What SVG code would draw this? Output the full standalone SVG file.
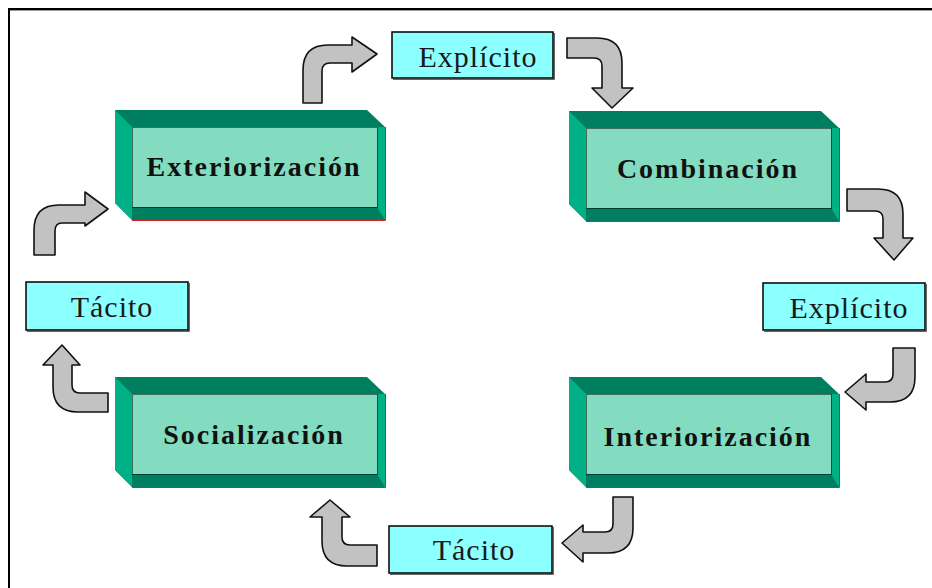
<svg xmlns="http://www.w3.org/2000/svg" width="932" height="588" viewBox="0 0 932 588">
<defs>
<style>
.face{fill:#84dcc0}
.dark{fill:#007f60}
.light{fill:#00b186}
.dots{fill:none;stroke:#000;stroke-width:1;stroke-dasharray:1 1}
.edge{fill:none;stroke:#e02020;stroke-width:1}
.title{font-family:"Liberation Serif","Times New Roman",serif;font-weight:bold;font-size:28px;letter-spacing:2px;fill:#111;text-anchor:middle}
.lbox{fill:#8cffff;stroke:#000;stroke-width:1.5}
.lshadow{fill:none;stroke:#333;stroke-width:1.5}
.ltext{font-family:"Liberation Serif","Times New Roman",serif;font-size:30px;letter-spacing:1px;fill:#1a1a1a;text-anchor:middle}
.arrow{fill:#c2c2c2;stroke:#111;stroke-width:1.6;stroke-linejoin:round}
</style>
<g id="box3d">
<polygon class="dark" points="0,0 252,0 270,17 270,110 17,110 0,93"/>
<polygon class="light" points="0,0 17,17 17,110 0,93"/>
<polygon class="light" points="262,17 270,17 270,110 262,97"/>
<rect class="face" x="17" y="17" width="245" height="80"/>
<rect class="dots" x="17.5" y="17.5" width="245" height="80"/>
<polyline class="edge" points="270.5,17 270.5,110.5 17,110.5"/>
</g>
</defs>
<rect x="0" y="0" width="932" height="588" fill="#fff"/>
<rect x="8" y="8" width="924" height="2" fill="#000"/>
<rect x="10" y="10" width="922" height="1" fill="#999"/>
<rect x="8" y="8" width="2" height="580" fill="#000"/>

<g id="connectors">
<path class="arrow" d="M303,103 L303,70 Q303,45 328,45 L352,45 L352,37 L377,54 L352,72 L352,63 L330,63 Q322,63 322,71 L322,103 Z"/>
<path class="arrow" d="M567,38 L597,38 Q622,38 622,63 L622,88 L633,88 L612,108 L592,88 L602,88 L602,66 Q602,58 594,58 L567,58 Z"/>
<path class="arrow" d="M847,189 L878,189 Q903,189 903,214 L903,238 L913,238 L894,260 L874,238 L883,238 L883,219 Q883,211 875,211 L847,211 Z"/>
<path class="arrow" d="M893,348 L915,348 L915,377 Q915,402 890,402 L866,402 L866,410 L845,392 L866,374 L866,382 L885,382 Q893,382 893,374 Z"/>
<path class="arrow" d="M613,497 L633,497 L633,528 Q633,553 608,553 L583,553 L583,562 L562,543 L583,525 L583,532 L605,532 Q613,532 613,524 Z"/>
<path class="arrow" d="M377,545 L350,545 Q342,545 342,537 L342,517 L350,517 L330,500 L310,517 L322,517 L322,541 Q322,566 347,566 L377,566 Z"/>
<path class="arrow" d="M108,393 L80,393 Q72,393 72,385 L72,365 L80,365 L62,345 L43,365 L53,365 L53,387 Q53,412 78,412 L108,412 Z"/>
<path class="arrow" d="M34,255 L34,230 Q34,205 59,205 L85,205 L85,192 L108,209 L85,226 L85,223 L62,223 Q55,223 55,231 L55,255 Z"/>
</g>

<g id="exteriorizacion">
<use href="#box3d" x="115" y="110"/>
<text class="title" x="254" y="176">Exteriorización</text>
</g>
<g id="combinacion">
<use href="#box3d" x="569" y="111"/>
<text class="title" x="708" y="178">Combinación</text>
</g>
<g id="socializacion">
<use href="#box3d" x="115" y="377"/>
<text class="title" x="254" y="444">Socialización</text>
</g>
<g id="interiorizacion">
<use href="#box3d" x="569" y="377"/>
<text class="title" x="708" y="446">Interiorización</text>
</g>

<g id="explicito-top">
<rect class="lbox" x="392" y="32" width="161" height="46"/>
<polyline class="lshadow" points="554,33 554,79 393,79"/>
<text class="ltext" x="478" y="67">Explícito</text>
</g>
<g id="explicito-right">
<rect class="lbox" x="763" y="283" width="162" height="47"/>
<polyline class="lshadow" points="926,284 926,331 764,331"/>
<text class="ltext" x="849" y="318">Explícito</text>
</g>
<g id="tacito-left">
<rect class="lbox" x="26" y="282" width="162" height="48"/>
<polyline class="lshadow" points="189,283 189,331 27,331"/>
<text class="ltext" x="112" y="317">Tácito</text>
</g>
<g id="tacito-bottom">
<rect class="lbox" x="389" y="526" width="163" height="47"/>
<polyline class="lshadow" points="553,527 553,574 390,574"/>
<text class="ltext" x="474" y="560">Tácito</text>
</g>
</svg>
